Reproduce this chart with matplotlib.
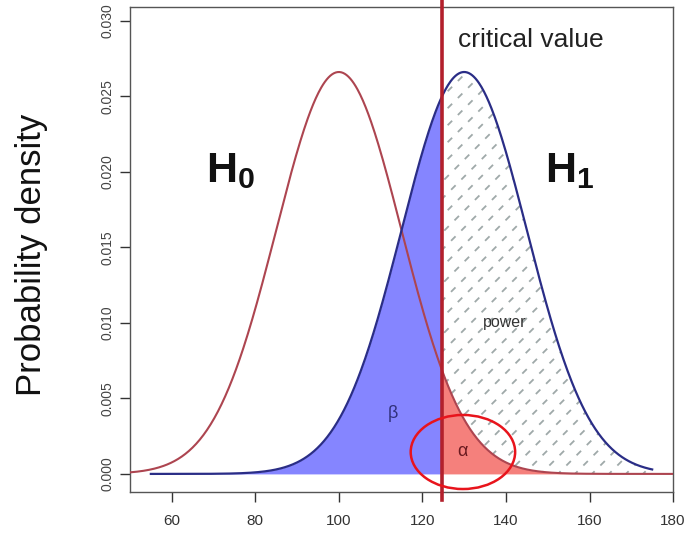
import numpy as np
import matplotlib
matplotlib.use("Agg")
import matplotlib.pyplot as plt
from matplotlib.patches import Ellipse, Polygon
import matplotlib.transforms as mtransforms

plt.rcParams["mathtext.fontset"] = "custom"
plt.rcParams["mathtext.rm"] = "Liberation Sans"
plt.rcParams["mathtext.bf"] = "Liberation Sans:bold"
plt.rcParams["mathtext.it"] = "Liberation Sans:italic"

# ---- data ----
mu0 = 100.0          # H0 mean
mu1 = 130.0          # H1 mean
sd = 15.0            # common standard deviation
crit = 124.7         # critical value
h0_range = (50, 180)
h1_range = (55, 175)
xticks = [60, 80, 100, 120, 140, 160, 180]
yticks = [0.000, 0.005, 0.010, 0.015, 0.020, 0.025, 0.030]
ytick_labels = ["0.000", "0.005", "0.010", "0.015", "0.020", "0.025", "0.030"]


def npdf(x, m, s):
    return np.exp(-0.5 * ((x - m) / s) ** 2) / (s * np.sqrt(2 * np.pi))


fig = plt.figure(figsize=(6.84, 5.36), dpi=100)
ax = fig.add_axes([0.190, 0.082, 0.794, 0.905])
ax.set_xlim(50, 180)
ax.set_ylim(-0.0012, 0.0309)

x0 = np.linspace(*h0_range, 600)
x1 = np.linspace(*h1_range, 600)
y0 = npdf(x0, mu0, sd)
y1 = npdf(x1, mu1, sd)

c_h0 = "#ad4550"
c_h1 = "#2a2d86"

# beta region (blue)
m = x1 <= crit
xb = np.concatenate([x1[m], [crit]])
yb = np.concatenate([y1[m], [npdf(crit, mu1, sd)]])
ax.fill_between(xb, 0, yb, color="#8585ff", lw=0, zorder=1)

# power region (hatched with dashed diagonal lines)
m = x1 >= crit
xp = np.concatenate([[crit], x1[m]])
yp = np.concatenate([[npdf(crit, mu1, sd)], y1[m]])
poly = Polygon(np.column_stack([np.concatenate([xp, [xp[-1], crit]]),
                                np.concatenate([yp, [0, 0]])]),
               closed=True, facecolor="none", edgecolor="none", zorder=1)
ax.add_patch(poly)
fig.canvas.draw()
disp = ax.transData
px0 = disp.transform((50, 0))
px1 = disp.transform((180, 0.03))
spacing = 17.0
offs = np.arange(-700, 900, spacing)
for o in offs:
    xa, xbb = px0[0] - 50, px1[0] + 50
    pts = np.array([[xa, xa + o - px0[0] + px0[1]], [xbb, xbb + o - px0[0] + px0[1]]])
    dpts = disp.inverted().transform(pts)
    ln, = ax.plot(dpts[:, 0], dpts[:, 1], color="#9fa9a9", lw=1.3,
                  linestyle=(0, (3.5, 4.5)), zorder=1.5)
    ln.set_clip_path(poly)

# alpha region (red)
m = x0 >= crit
xa_ = np.concatenate([[crit], x0[m]])
ya_ = np.concatenate([[npdf(crit, mu0, sd)], y0[m]])
ax.fill_between(xa_, 0, ya_, color="#f5807c", lw=0, zorder=2)

# curves
ax.plot(x0, y0, color=c_h0, lw=1.5, zorder=3)
ax.plot(x1, y1, color=c_h1, lw=1.6, zorder=3)

# critical value line
trans = mtransforms.blended_transform_factory(ax.transData, ax.transAxes)
ax.plot([crit, crit], [-0.017, 1.03], transform=trans, color="#b3202c", lw=2.6,
        clip_on=False, zorder=4)

# ellipse around alpha
ax.add_patch(Ellipse((129.7, 0.00145), 25.0, 0.0049, fill=False,
                     edgecolor="#e8141c", lw=1.8, zorder=5, clip_on=False))

# texts
ax.text(128.6, 0.0287, "critical value", fontsize=19, color="#222222",
        family="Liberation Sans", va="center", ha="left")
ax.text(74, 0.0201, r"$\mathbf{H}_\mathbf{0}$", fontsize=31, ha="center", va="center",
        color="#111111")
ax.text(155.3, 0.0201, r"$\mathbf{H}_\mathbf{1}$", fontsize=31, ha="center", va="center",
        color="#111111")
ax.text(139.8, 0.0100, "power", fontsize=11.5, ha="center", va="center", color="#333333",
        family="Liberation Sans")
ax.text(113, 0.0040, "β", fontsize=13, ha="center", va="center", color="#30307a",
        family="Liberation Sans")
ax.text(129.7, 0.0015, "α", fontsize=13, ha="center", va="center", color="#6a1a20",
        family="Liberation Sans")

# axes styling
ax.set_xticks(xticks)
ax.set_xticklabels([str(v) for v in xticks], family="Liberation Sans", fontsize=11,
                   color="#333333")
ax.set_yticks(yticks)
ax.set_yticklabels(ytick_labels, family="Liberation Sans", fontsize=10, color="#444444",
                   rotation=90, va="center")
ax.tick_params(axis="both", direction="out", length=7, width=1, color="#333333")
ax.tick_params(axis="x", pad=9)
ax.tick_params(axis="y", pad=4)
for s in ax.spines.values():
    s.set_color("#555555")
    s.set_linewidth(1.0)

fig.text(0.046, 0.525, "Probability density", rotation=90, fontsize=25,
         family="Liberation Sans", ha="center", va="center", color="#111111")

fig.savefig("out.png", dpi=100)
